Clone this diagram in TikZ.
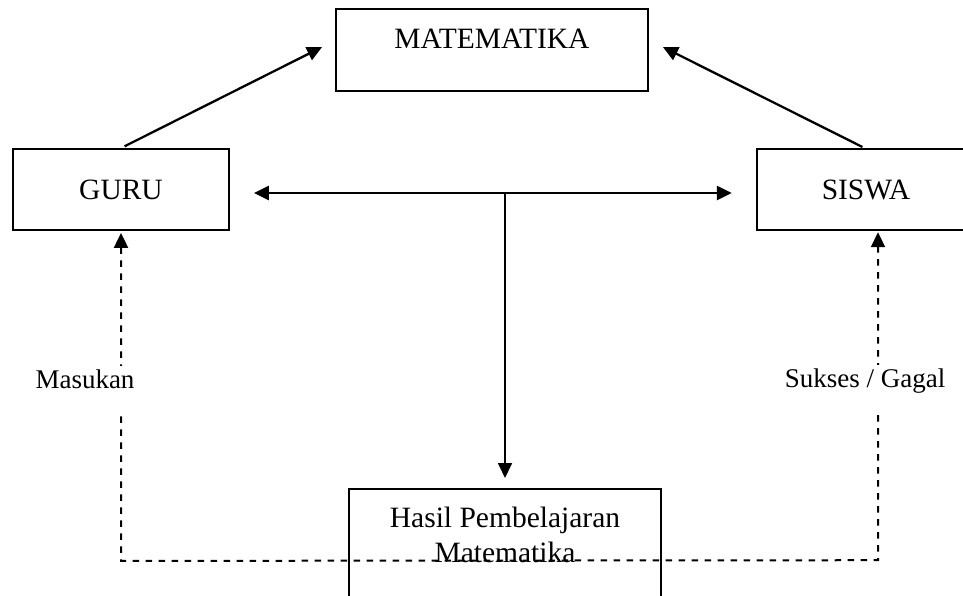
\documentclass[tikz,border=0pt]{standalone}
\usepackage{fontspec}
\setmainfont{Liberation Serif}
\usetikzlibrary{arrows.meta,calc}
\begin{document}
\begin{tikzpicture}[x=1pt,y=-1pt,
  box/.style={draw, line width=1.8pt, inner sep=0pt},
  lbl/.style={font=\fontsize{29.5}{35}\selectfont},
  lblsmall/.style={font=\fontsize{27}{32}\selectfont},
  tip/.tip={Triangle[length=15pt,width=14pt]},
  conn/.style={line width=2.3pt, -tip},
  dbl/.style={line width=2.4pt, tip-tip},
  vconn/.style={line width=1.7pt, -tip},
  dconn/.style={line width=2pt, dash pattern=on 6.5pt off 6.5pt, tip-tip},
  cover/.style={lblsmall, fill=white, anchor=base, inner xsep=2pt, inner ysep=3pt, text depth=22pt}
]
\useasboundingbox (0,0) rectangle (963,595);
\clip (0,0) rectangle (963,595);
\fill[white] (0,0) rectangle (963,595);

% boxes
\node[box, minimum width=312pt, minimum height=82pt] (mat) at (492,50) {};
\node[lbl, anchor=base] (matt) at (492,48) {MATEMATIKA};
\node[box, lbl, minimum width=216pt, minimum height=81pt] (guru) at (121,189.5) {GURU};
\node[lbl, inner sep=0pt, minimum width=218pt, minimum height=81pt] (siswa) at (866,189.5) {SISWA};
\draw[line width=1.8pt] ($(siswa.north west)+(300,0)$) -- (siswa.north west) -- (siswa.south west) -- ++(300,0);
\node[box, minimum width=312pt, minimum height=140pt, anchor=north] (hasil) at (505,488) {};

% helper coordinates
\coordinate (hl) at ($(guru.east)+(24,3.5)$);
\coordinate (hr) at ($(siswa.west)+(-25,3.5)$);
\coordinate (hj) at (hasil.north |- hl);
\path (guru.south) ++(0,330) coordinate (dl);
\path (siswa.south) ++(12,330) coordinate (dr);

% solid connectors
\draw[conn, shorten <=4pt] (guru.north) -- ($(mat.west)+(-13,-3)$);
\draw[conn, shorten <=4pt] (siswa.north) -- ($(mat.east)+(14,-3)$);
\draw[dbl] (hl) -- (hr);
\draw[vconn, shorten >=10pt] (hj) -- (hasil.north);

% dashed feedback
\draw[dconn] ($(guru.south)+(0,2)$) -- (dl) -- (dr) -- ($(siswa.south)+(12,2)$);

% labels
\node[cover] (mas) at (85,388) {Masukan};
\node[cover] (suk) at (865,387) {Sukses / Gagal};
\node[lbl, align=center, anchor=north, inner sep=0pt] (hasilt) at (505,507) {Hasil Pembelajaran\\Matematika};
\end{tikzpicture}
\end{document}
